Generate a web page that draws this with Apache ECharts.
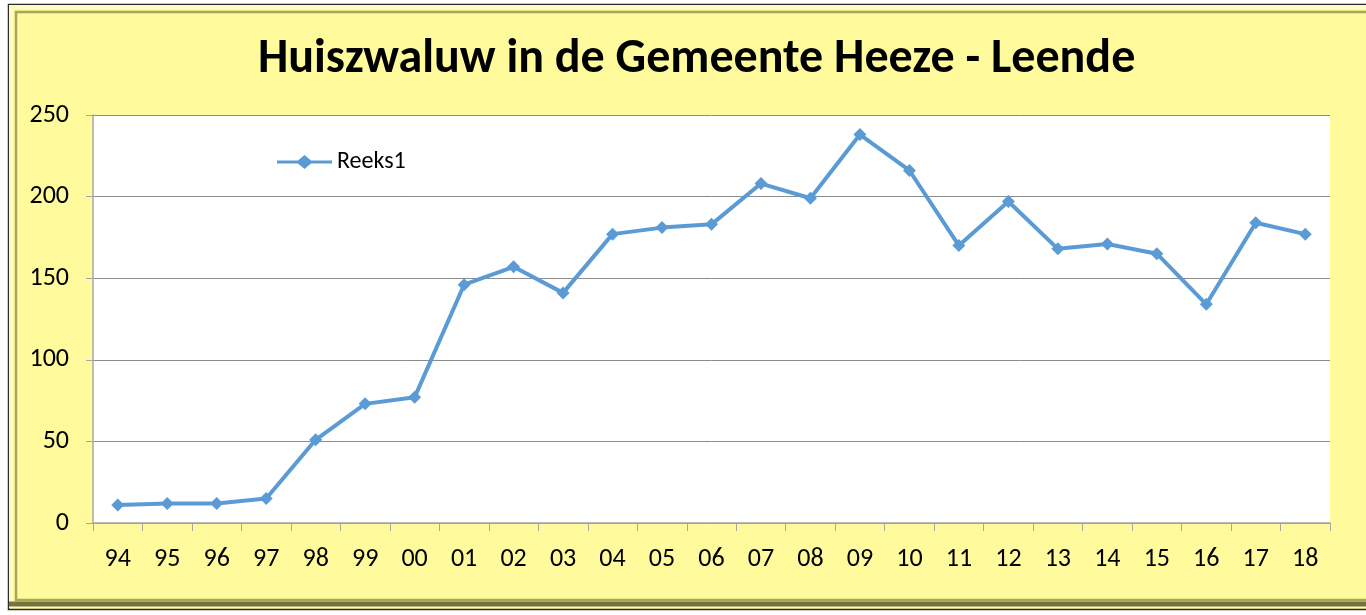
<!DOCTYPE html>
<html>
<head>
<meta charset="utf-8">
<script src="https://cdn.jsdelivr.net/npm/echarts@6/dist/echarts.min.js"></script>
<style>
  html, body { margin: 0; padding: 0; background: #fff; }
  #chart { width: 1366px; height: 615px; }
</style>
</head>
<body>
<div id="chart"></div>
<script>
// jaartallen (x-as)
var jaren = ["94", "95", "96", "97", "98", "99", "00", "01", "02", "03", "04", "05", "06",
  "07", "08", "09", "10", "11", "12", "13", "14", "15", "16", "17", "18"];
// aantal huiszwaluwen per jaar
var reeks1 = [11, 12, 12, 15, 51, 73, 77, 146, 157, 141, 177, 181, 183,
  208, 199, 238, 216, 170, 197, 168, 171, 165, 134, 184, 177];
var titel = "Huiszwaluw in de Gemeente Heeze - Leende";
var reeksNaam = "Reeks1";

var chart = echarts.init(document.getElementById("chart"));
var font = "Carlito, 'Liberation Sans', Arial, sans-serif";

var option = {
  backgroundColor: "#fff",
  animation: false,
  // omlijsting met schuine rand
  graphic: [
    {
      type: "rect",
      shape: { x: 8.5, y: 4.5, width: 1400, height: 605 },
      style: { fill: "#FFFB9C", stroke: "#2b2b2b", lineWidth: 1.5 },
      z: -10
    },
    {
      type: "rect",
      shape: { x: 11, y: 7, width: 1400, height: 599 },
      style: { fill: "none", stroke: "#FFFCC0", lineWidth: 4 },
      z: -9
    },
    {
      type: "rect",
      shape: { x: 16, y: 12, width: 1400, height: 588 },
      style: { fill: "none", stroke: "#A9A55A", lineWidth: 2.5 },
      z: -9
    },
    {
      type: "line",
      shape: { x1: 9, y1: 604, x2: 1366, y2: 604 },
      style: { stroke: "#77733C", lineWidth: 5 },
      z: -8
    }
  ],
  title: {
    text: titel,
    left: 253,
    top: 31,
    textStyle: {
      fontFamily: font,
      fontWeight: "bold",
      fontSize: 48,
      color: "#000"
    }
  },
  legend: {
    data: [{
      name: reeksNaam,
      // lijn met ruit, zoals in Excel
      icon: "path://M0,5.5L21,5.5L27.5,0L34,5.5L55,5.5L55,8.5L34,8.5L27.5,14L21,8.5L0,8.5Z"
    }],
    left: 272,
    top: 145,
    itemWidth: 55,
    itemHeight: 14,
    itemGap: 4,
    itemStyle: { color: "#5B9BD5" },
    textStyle: { fontFamily: font, fontSize: 24, color: "#000" }
  },
  grid: {
    show: true,
    backgroundColor: "#fff",
    borderWidth: 0,
    left: 93,
    right: 36,
    top: 115,
    bottom: 92
  },
  xAxis: {
    type: "category",
    data: jaren,
    boundaryGap: true,
    axisLine: { lineStyle: { color: "#A6A6A6", width: 1.5 } },
    axisTick: { show: true, length: 8, lineStyle: { color: "#A6A6A6" } },
    axisLabel: {
      interval: 0,
      margin: 23,
      fontFamily: font,
      fontSize: 26,
      color: "#000"
    }
  },
  yAxis: {
    type: "value",
    min: 0,
    max: 250,
    interval: 50,
    axisLine: { show: true, lineStyle: { color: "#A6A6A6", width: 1.5 } },
    axisTick: { show: true, length: 7, lineStyle: { color: "#A6A6A6" } },
    splitLine: { lineStyle: { color: "#8C8C8C", width: 1 } },
    axisLabel: {
      margin: 24,
      fontFamily: font,
      fontSize: 26,
      color: "#000"
    }
  },
  series: [
    {
      name: reeksNaam,
      type: "line",
      data: reeks1,
      symbol: "diamond",
      symbolSize: 13,
      itemStyle: { color: "#5B9BD5" },
      lineStyle: { color: "#5B9BD5", width: 4 }
    }
  ]
};
chart.setOption(option);
</script>
</body>
</html>
